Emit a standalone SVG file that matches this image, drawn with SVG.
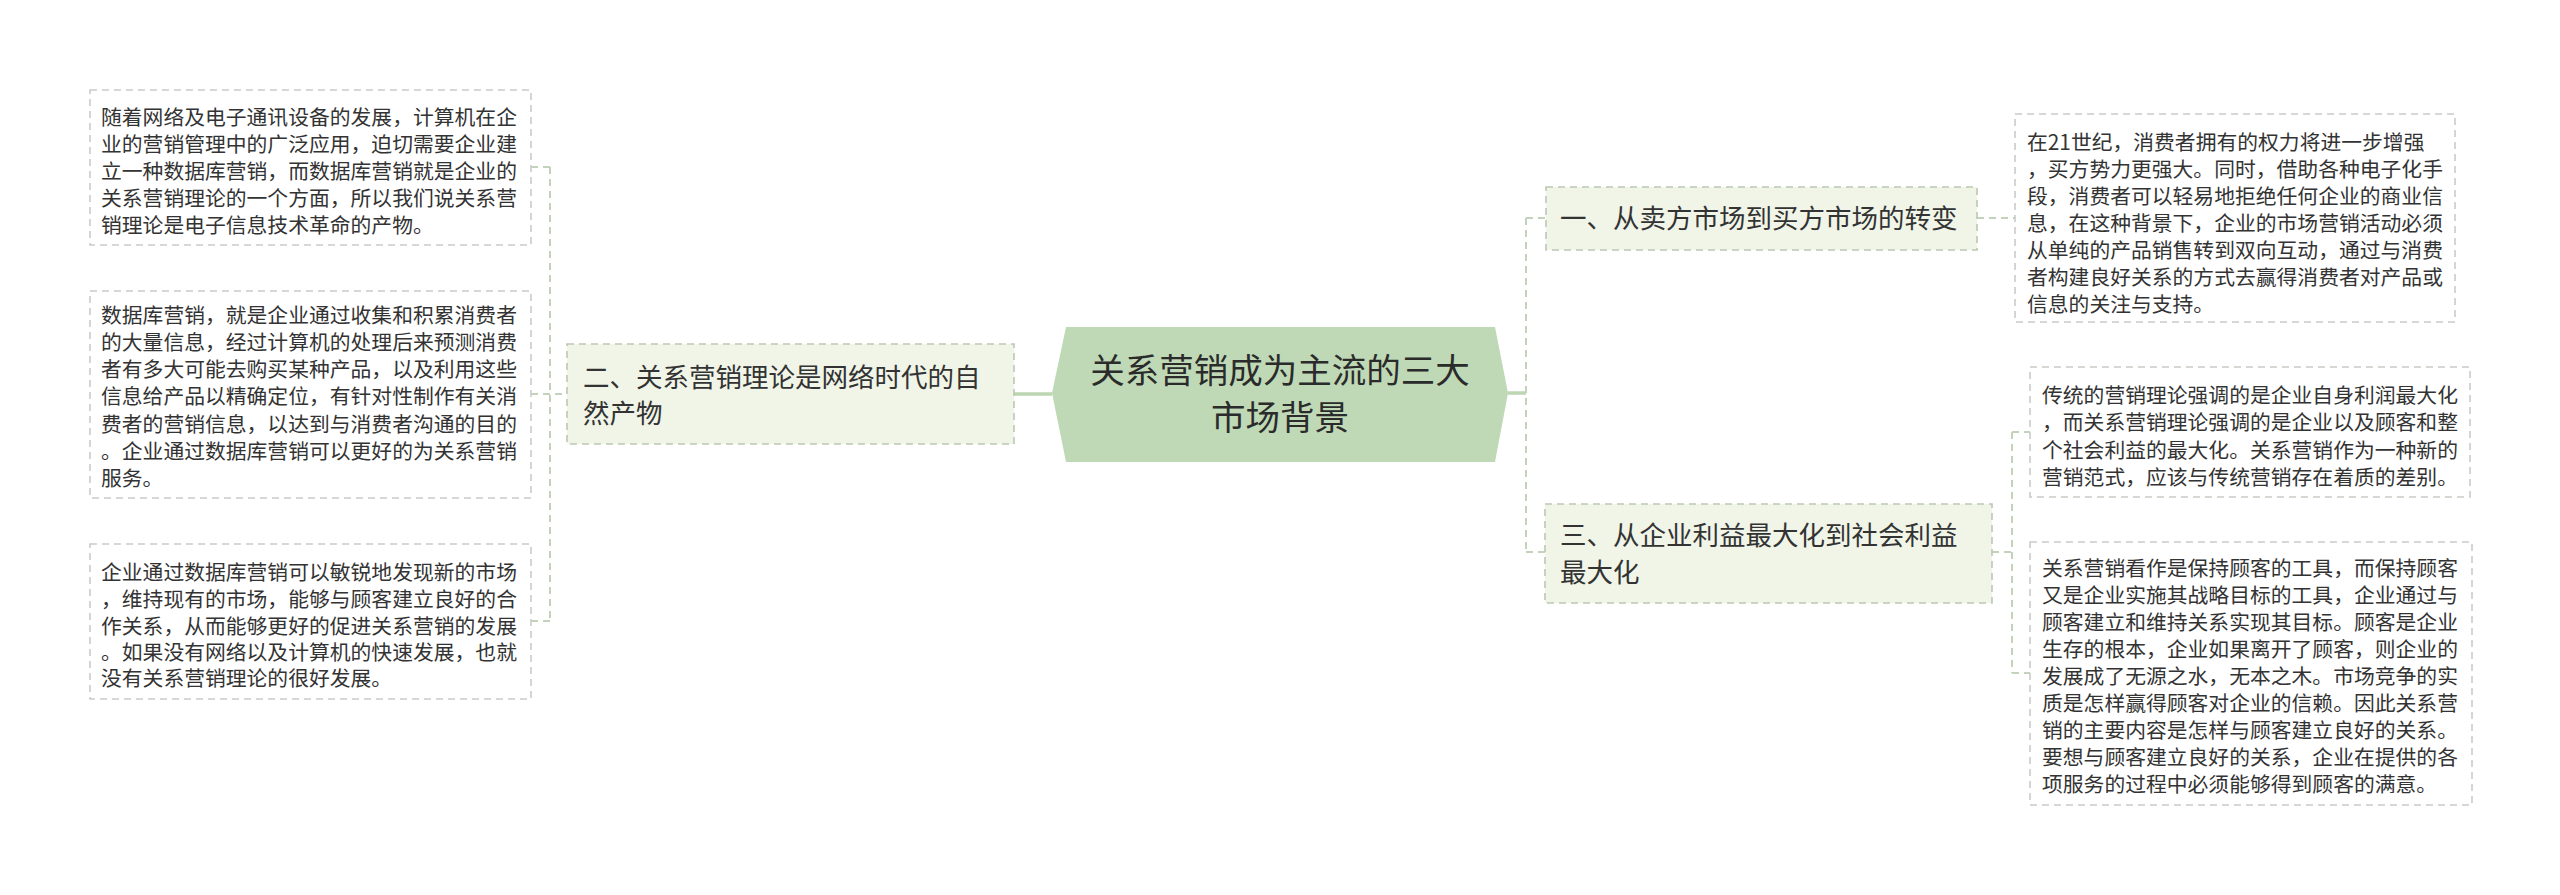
<svg xmlns="http://www.w3.org/2000/svg" width="2560" height="895" viewBox="0 0 2560 895">
<style>
text{font-family:"Noto Sans CJK SC","Noto Sans",sans-serif;fill:#333;}
.leaf{font-size:20.8px;}
.mid{font-size:26.5px;}
.root{font-size:34.5px;fill:#2b2b2b;text-anchor:middle;}
.lbox{fill:#ffffff;stroke:#c9ccc6;stroke-width:1.6;stroke-dasharray:7 5;}
.mbox{fill:#f0f5e8;stroke:#bcc8b4;stroke-width:1.6;stroke-dasharray:7 5;}
.solid{stroke:#bcd6b2;stroke-width:3.5;fill:none;}
.dash{stroke:#c2d2bb;stroke-width:2;fill:none;stroke-dasharray:7 5;}
</style>
<rect width="2560" height="895" fill="#ffffff"/>
<g id="connectors">
<path class="solid" d="M1014 394 H1052"/>
<path class="solid" d="M1508 393 H1526"/>
<path class="dash" d="M1526 218 V552"/>
<path class="dash" d="M1526 218 H1546"/>
<path class="dash" d="M1526 552 H1545"/>
<path class="dash" d="M1977 218 H2015"/>
<path class="dash" d="M1992 552 H2012"/>
<path class="dash" d="M2012 432 V673"/>
<path class="dash" d="M2012 432 H2030"/>
<path class="dash" d="M2012 673 H2030"/>
<path class="dash" d="M550 167 V621"/>
<path class="dash" d="M531 167 H550"/>
<path class="dash" d="M531 621 H550"/>
<path class="dash" d="M531 394 H567"/>
</g>
<g id="root">
<polygon points="1066,327 1495,327 1508,393 1495,462 1066,462 1052,393" fill="#bfd9b6"/>
<text class="root" x="1280" y="383">关系营销成为主流的三大</text>
<text class="root" x="1280" y="430">市场背景</text>
</g>
<g id="node1">
<rect class="mbox" x="1546" y="187" width="431" height="63"/>
<text class="mid" x="1560" y="228">一、从卖方市场到买方市场的转变</text>
</g>
<g id="node2">
<rect class="mbox" x="567" y="344" width="447" height="100"/>
<text class="mid" x="583" y="387">二、关系营销理论是网络时代的自</text>
<text class="mid" x="583" y="423">然产物</text>
</g>
<g id="node3">
<rect class="mbox" x="1545" y="504" width="447" height="99"/>
<text class="mid" x="1560" y="545">三、从企业利益最大化到社会利益</text>
<text class="mid" x="1560" y="582">最大化</text>
</g>
<g id="leafL1">
<rect class="lbox" x="90" y="90" width="441" height="155"/>
<text class="leaf" x="101" y="125">随着网络及电子通讯设备的发展，计算机在企</text>
<text class="leaf" x="101" y="152">业的营销管理中的广泛应用，迫切需要企业建</text>
<text class="leaf" x="101" y="179">立一种数据库营销，而数据库营销就是企业的</text>
<text class="leaf" x="101" y="206">关系营销理论的一个方面，所以我们说关系营</text>
<text class="leaf" x="101" y="233">销理论是电子信息技术革命的产物。</text>
</g>
<g id="leafL2">
<rect class="lbox" x="90" y="291" width="441" height="207"/>
<text class="leaf" x="101" y="323">数据库营销，就是企业通过收集和积累消费者</text>
<text class="leaf" x="101" y="350">的大量信息，经过计算机的处理后来预测消费</text>
<text class="leaf" x="101" y="377">者有多大可能去购买某种产品，以及利用这些</text>
<text class="leaf" x="101" y="404">信息给产品以精确定位，有针对性制作有关消</text>
<text class="leaf" x="101" y="432">费者的营销信息，以达到与消费者沟通的目的</text>
<text class="leaf" x="101" y="459">。企业通过数据库营销可以更好的为关系营销</text>
<text class="leaf" x="101" y="486">服务。</text>
</g>
<g id="leafL3">
<rect class="lbox" x="90" y="544" width="441" height="155"/>
<text class="leaf" x="101" y="580">企业通过数据库营销可以敏锐地发现新的市场</text>
<text class="leaf" x="101" y="607">，维持现有的市场，能够与顾客建立良好的合</text>
<text class="leaf" x="101" y="634">作关系，从而能够更好的促进关系营销的发展</text>
<text class="leaf" x="101" y="660">。如果没有网络以及计算机的快速发展，也就</text>
<text class="leaf" x="101" y="686">没有关系营销理论的很好发展。</text>
</g>
<g id="leafR1">
<rect class="lbox" x="2015" y="114" width="440" height="208"/>
<text class="leaf" x="2027" y="150">在21世纪，消费者拥有的权力将进一步增强</text>
<text class="leaf" x="2027" y="177">，买方势力更强大。同时，借助各种电子化手</text>
<text class="leaf" x="2027" y="204">段，消费者可以轻易地拒绝任何企业的商业信</text>
<text class="leaf" x="2027" y="231">息，在这种背景下，企业的市场营销活动必须</text>
<text class="leaf" x="2027" y="258">从单纯的产品销售转到双向互动，通过与消费</text>
<text class="leaf" x="2027" y="285">者构建良好关系的方式去赢得消费者对产品或</text>
<text class="leaf" x="2027" y="312">信息的关注与支持。</text>
</g>
<g id="leafR2">
<rect class="lbox" x="2030" y="367" width="440" height="130"/>
<text class="leaf" x="2042" y="403">传统的营销理论强调的是企业自身利润最大化</text>
<text class="leaf" x="2042" y="430">，而关系营销理论强调的是企业以及顾客和整</text>
<text class="leaf" x="2042" y="458">个社会利益的最大化。关系营销作为一种新的</text>
<text class="leaf" x="2042" y="485">营销范式，应该与传统营销存在着质的差别。</text>
</g>
<g id="leafR3">
<rect class="lbox" x="2030" y="542" width="442" height="263"/>
<text class="leaf" x="2042" y="576">关系营销看作是保持顾客的工具，而保持顾客</text>
<text class="leaf" x="2042" y="603">又是企业实施其战略目标的工具，企业通过与</text>
<text class="leaf" x="2042" y="630">顾客建立和维持关系实现其目标。顾客是企业</text>
<text class="leaf" x="2042" y="657">生存的根本，企业如果离开了顾客，则企业的</text>
<text class="leaf" x="2042" y="684">发展成了无源之水，无本之木。市场竞争的实</text>
<text class="leaf" x="2042" y="711">质是怎样赢得顾客对企业的信赖。因此关系营</text>
<text class="leaf" x="2042" y="738">销的主要内容是怎样与顾客建立良好的关系。</text>
<text class="leaf" x="2042" y="765">要想与顾客建立良好的关系，企业在提供的各</text>
<text class="leaf" x="2042" y="792">项服务的过程中必须能够得到顾客的满意。</text>
</g>
</svg>
